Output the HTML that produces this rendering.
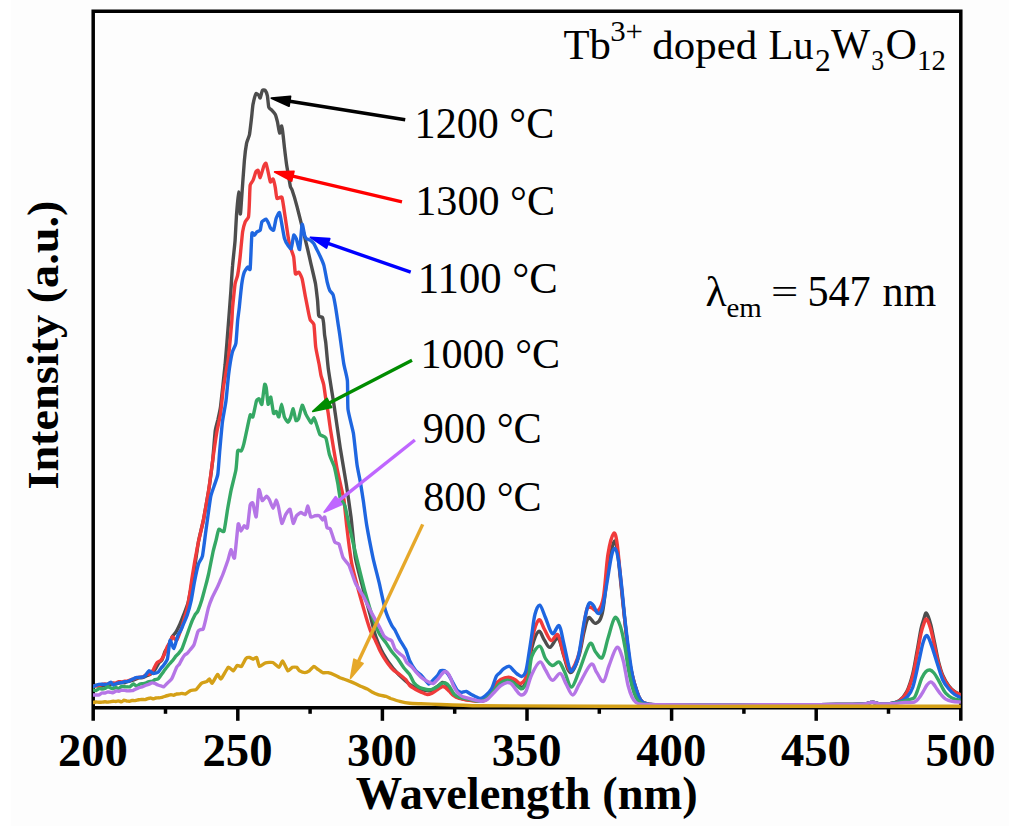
<!DOCTYPE html>
<html><head><meta charset="utf-8"><style>
html,body{margin:0;padding:0;background:#fff;}
svg{display:block;}
text{font-family:'Liberation Serif',serif;fill:#000;}
.lab{font-size:41px;}
.tk{font-size:44px;font-weight:bold;}
.ax{font-size:46px;font-weight:bold;}
</style></head><body>
<svg width="1009" height="836" viewBox="0 0 1009 836">
<defs><clipPath id="pc"><rect x="93" y="11" width="867.8" height="700"/></clipPath></defs>
<rect width="1009" height="836" fill="#fff"/>
<rect x="11" y="0" width="998" height="826" fill="#fdfdfd"/>
<path d="M93.2,720.8 L93.2,11.2 L960.8,11.2 L960.8,720.8 M93.2,707.7 L960.8,707.7" fill="none" stroke="#000" stroke-width="3.5" stroke-linejoin="miter"/>
<line x1="237.80" y1="707.7" x2="237.80" y2="720.8" stroke="#000" stroke-width="3.5"/>
<line x1="382.40" y1="707.7" x2="382.40" y2="720.8" stroke="#000" stroke-width="3.5"/>
<line x1="527.00" y1="707.7" x2="527.00" y2="720.8" stroke="#000" stroke-width="3.5"/>
<line x1="671.60" y1="707.7" x2="671.60" y2="720.8" stroke="#000" stroke-width="3.5"/>
<line x1="816.20" y1="707.7" x2="816.20" y2="720.8" stroke="#000" stroke-width="3.5"/>
<line x1="165.50" y1="707.7" x2="165.50" y2="713.8" stroke="#000" stroke-width="3.5"/>
<line x1="310.10" y1="707.7" x2="310.10" y2="713.8" stroke="#000" stroke-width="3.5"/>
<line x1="454.70" y1="707.7" x2="454.70" y2="713.8" stroke="#000" stroke-width="3.5"/>
<line x1="599.30" y1="707.7" x2="599.30" y2="713.8" stroke="#000" stroke-width="3.5"/>
<line x1="743.90" y1="707.7" x2="743.90" y2="713.8" stroke="#000" stroke-width="3.5"/>
<line x1="888.50" y1="707.7" x2="888.50" y2="713.8" stroke="#000" stroke-width="3.5"/>
<g clip-path="url(#pc)">
<path d="M93.0,687.0 C93.2,686.9 95.5,685.3 96.0,685.2 C96.5,685.1 98.5,685.8 99.0,685.8 C99.5,685.9 101.5,686.1 102.0,686.1 C102.5,686.0 104.5,685.1 105.0,685.0 C105.5,684.9 107.3,684.6 107.8,684.6 C108.2,684.6 110.0,684.7 110.5,684.6 C111.0,684.5 112.8,683.2 113.2,683.2 C113.7,683.1 115.5,684.0 116.0,684.0 C116.5,684.0 118.3,683.3 118.8,683.2 C119.3,683.1 121.1,682.5 121.6,682.5 C122.1,682.5 123.9,682.9 124.4,682.9 C124.9,682.8 126.7,681.9 127.2,681.7 C127.7,681.6 129.5,681.1 130.0,681.0 C130.5,680.9 132.6,680.3 133.2,680.1 C133.7,680.0 135.8,679.0 136.3,678.8 C136.8,678.6 138.9,677.9 139.4,677.8 C140.0,677.7 142.0,677.7 142.6,677.6 C143.2,677.5 145.7,676.3 146.3,676.0 C146.9,675.8 149.4,674.8 150.0,674.5 C150.6,674.2 152.5,672.8 153.0,672.2 C153.5,671.7 155.5,668.8 156.0,668.0 C156.5,667.2 158.5,663.3 159.0,662.6 C159.5,661.9 161.5,660.9 162.0,660.0 C162.5,659.1 164.5,652.5 165.0,651.4 C165.5,650.4 167.4,648.2 168.0,647.0 C168.6,645.8 171.3,638.2 172.0,637.0 C172.7,635.8 175.3,633.1 176.0,632.0 C176.7,630.9 179.3,625.5 180.0,624.0 C180.7,622.5 183.3,615.8 184.0,614.0 C184.7,612.2 187.4,605.2 188.0,603.0 C188.6,600.8 190.4,591.1 191.0,588.0 C191.6,584.9 194.1,570.1 194.8,566.2 C195.4,562.3 197.8,545.4 198.5,541.5 C199.2,537.6 202.8,523.3 203.6,519.1 C204.4,514.9 207.8,495.6 208.6,490.7 C209.4,485.8 212.1,465.2 212.7,460.2 C213.2,455.2 214.8,434.6 215.2,431.2 C215.6,427.8 217.4,421.9 217.9,419.8 C218.3,417.7 220.0,410.7 220.6,406.1 C221.2,401.5 224.4,372.0 225.1,364.8 C225.8,357.6 228.2,326.2 228.7,320.0 C229.2,313.8 230.6,295.1 230.9,290.5 C231.2,285.9 232.2,269.6 232.6,265.4 C232.9,261.2 234.8,244.5 235.1,240.3 C235.4,236.1 236.2,219.0 236.5,215.0 C236.8,211.0 238.2,192.1 238.5,192.0 C238.8,191.9 240.1,213.3 240.3,214.0 C240.6,214.7 241.2,204.5 241.5,200.0 C241.8,195.5 244.0,165.0 244.4,160.3 C244.8,155.6 246.2,145.2 246.6,143.1 C247.0,140.9 249.1,136.7 249.5,134.5 C249.9,132.3 251.3,119.8 251.6,117.3 C251.9,114.8 252.6,106.4 253.0,104.4 C253.4,102.4 255.4,94.6 255.9,93.8 C256.4,93.0 258.4,95.0 258.8,95.3 C259.2,95.6 259.9,98.4 260.2,98.0 C260.5,97.6 262.0,91.0 262.4,90.4 C262.8,89.8 264.8,90.0 265.2,90.4 C265.6,90.9 267.1,94.4 267.4,95.8 C267.7,97.2 268.4,106.1 268.8,107.3 C269.2,108.5 271.2,109.5 271.7,110.1 C272.2,110.7 274.8,113.4 275.3,114.4 C275.8,115.4 277.0,120.0 277.4,121.6 C277.8,123.2 279.2,132.7 279.6,133.1 C280.0,133.5 281.4,125.7 281.7,125.9 C282.0,126.1 283.0,134.1 283.2,136.0 C283.4,137.9 284.3,146.4 284.6,148.9 C284.9,151.4 286.3,163.0 286.8,166.1 C287.3,169.2 289.9,184.2 290.3,186.2 C290.7,188.2 291.5,188.3 292.1,190.0 C292.7,191.7 296.3,203.7 297.1,206.8 C297.9,209.9 301.3,223.6 302.1,226.9 C302.9,230.2 306.3,243.8 307.1,247.0 C307.9,250.2 310.6,262.3 311.3,265.4 C312.0,268.5 315.0,280.9 315.5,283.8 C316.0,286.7 317.2,297.4 317.5,300.0 C317.8,302.6 318.3,314.0 318.7,315.5 C319.1,317.0 322.1,316.9 322.5,317.5 C322.9,318.1 323.4,321.5 323.6,323.0 C323.8,324.5 324.4,333.3 324.6,335.0 C324.8,336.7 325.5,340.2 325.8,343.0 C326.1,345.8 327.6,363.4 328.3,368.7 C329.0,374.0 333.3,400.4 334.3,407.0 C335.3,413.6 339.2,441.3 340.2,447.7 C341.2,454.1 345.3,477.7 346.2,483.5 C347.1,489.3 350.2,510.8 351.0,517.0 C351.8,523.2 354.4,551.9 355.4,557.8 C356.4,563.7 361.6,583.2 362.9,588.0 C364.1,592.8 369.3,611.6 370.4,615.6 C371.4,619.6 374.4,632.6 375.5,635.7 C376.6,638.8 381.5,650.6 383.0,653.3 C384.5,656.0 391.2,666.0 393.1,668.3 C395.0,670.6 403.9,679.4 405.6,680.9 C407.3,682.4 411.7,685.8 413.0,686.5 C414.3,687.2 419.2,689.4 420.7,689.7 C422.2,690.0 429.4,690.8 430.8,690.5 C432.2,690.2 436.5,687.2 437.5,686.5 C438.5,685.8 441.7,682.7 442.4,682.5 C443.1,682.3 445.4,683.5 446.0,684.0 C446.6,684.5 448.8,688.1 449.4,689.0 C450.0,689.9 452.5,693.6 453.3,694.4 C454.1,695.1 458.0,697.5 459.3,698.0 C460.6,698.5 467.5,699.8 469.2,700.0 C470.9,700.2 478.5,701.1 480.0,701.0 C483.0,700.8 484.6,700.8 487.0,698.5 C489.4,696.2 492.3,689.8 494.6,687.0 C496.9,684.2 498.5,682.8 500.8,681.5 C503.1,680.2 506.3,679.5 508.6,679.5 C510.9,679.5 512.5,680.2 514.8,681.5 C517.1,682.8 520.5,688.2 522.6,687.3 C524.7,686.4 525.8,682.5 527.3,676.0 C528.8,669.5 529.9,655.4 531.8,648.0 C533.7,640.6 536.5,632.7 538.6,631.4 C540.7,630.1 542.4,637.4 544.3,640.0 C546.2,642.6 547.7,647.6 550.0,647.3 C552.3,647.0 555.7,636.9 558.0,638.2 C560.3,639.5 561.9,649.7 563.6,655.0 C565.3,660.3 566.7,667.3 568.2,670.0 C569.7,672.7 570.8,673.7 572.7,671.0 C574.6,668.3 577.6,660.5 579.5,654.0 C581.4,647.5 582.5,638.0 584.0,632.0 C585.5,626.0 586.7,619.1 588.6,617.7 C590.5,616.3 593.2,624.1 595.5,623.4 C597.8,622.6 600.2,622.1 602.3,613.2 C604.4,604.3 606.1,581.8 608.0,570.0 C609.9,558.2 612.1,546.4 613.6,542.7 C615.1,539.0 615.9,541.8 617.0,548.0 C618.1,554.2 619.2,567.6 620.5,580.0 C621.8,592.4 623.5,608.8 625.0,622.3 C626.5,635.8 628.2,651.6 629.5,660.9 C630.8,670.2 632.0,673.8 633.0,678.0 C634.0,682.2 634.2,682.8 635.2,686.0 C636.2,689.2 637.7,694.2 639.0,697.0 C640.3,699.8 641.2,701.3 643.0,702.5 C644.8,703.7 647.2,704.0 650.0,704.4 C652.8,704.8 651.7,704.7 660.0,704.8 C668.3,704.9 683.3,704.9 700.0,704.9 C716.7,704.9 740.0,704.8 760.0,704.8 C780.0,704.8 803.0,704.7 820.0,704.6 C837.0,704.5 853.3,704.7 862.0,704.3 C870.7,703.9 869.0,702.3 872.0,702.3 C875.0,702.2 877.0,703.8 880.0,704.0 C883.0,704.2 886.8,704.4 890.0,703.8 C893.2,703.2 896.5,702.6 899.3,700.6 C902.1,698.6 904.5,696.1 906.8,691.6 C909.0,687.1 911.0,680.7 912.8,673.7 C914.5,666.7 915.9,657.3 917.3,649.8 C918.7,642.3 919.9,634.1 921.0,628.9 C922.1,623.7 923.1,621.0 924.0,618.4 C924.9,615.8 925.4,612.2 926.5,613.2 C927.6,614.2 929.4,619.5 930.7,624.4 C932.0,629.2 933.2,636.3 934.5,642.3 C935.8,648.3 936.8,654.8 938.2,660.3 C939.6,665.8 941.0,671.0 942.7,675.2 C944.5,679.4 946.7,683.0 948.7,685.7 C950.7,688.4 952.6,690.1 954.6,691.6 C956.6,693.1 959.6,694.1 960.6,694.6" fill="none" stroke="#4d4d4d" stroke-width="3.4" stroke-linejoin="round" stroke-linecap="round"/>
<path d="M93.0,686.0 C93.2,686.0 95.5,685.9 96.0,685.9 C96.5,685.9 98.5,686.1 99.0,685.9 C99.5,685.8 101.5,684.4 102.0,684.3 C102.5,684.1 104.5,684.0 105.0,684.0 C105.5,684.0 107.3,684.3 107.8,684.2 C108.2,684.0 110.0,682.8 110.5,682.7 C111.0,682.6 112.8,683.3 113.2,683.3 C113.7,683.3 115.5,683.1 116.0,683.0 C116.5,682.9 118.3,681.7 118.8,681.6 C119.3,681.5 121.1,681.9 121.6,681.9 C122.1,681.9 123.9,681.2 124.4,681.2 C124.9,681.1 126.7,681.2 127.2,681.1 C127.7,681.0 129.5,680.2 130.0,680.0 C130.5,679.8 132.6,679.2 133.2,679.0 C133.7,678.9 135.8,678.1 136.3,677.9 C136.8,677.8 138.9,677.3 139.4,677.2 C140.0,677.1 142.0,677.2 142.6,677.0 C143.2,676.8 145.7,674.7 146.3,674.4 C146.9,674.2 149.4,674.4 150.0,674.0 C150.6,673.6 152.8,670.5 153.4,669.6 C154.0,668.6 156.2,663.7 156.8,662.9 C157.4,662.1 160.1,661.1 160.8,660.3 C161.5,659.5 164.2,654.8 164.7,653.7 C165.2,652.6 166.9,647.7 167.3,646.7 C167.8,645.8 169.5,643.2 170.0,642.3 C170.4,641.5 172.0,636.8 172.6,636.6 C173.2,636.4 176.0,640.7 176.6,640.5 C177.2,640.3 178.8,635.6 179.2,634.5 C179.6,633.4 181.4,628.8 181.8,627.4 C182.2,626.0 184.0,619.6 184.4,618.1 C184.9,616.5 186.6,611.2 187.1,608.9 C187.6,606.6 189.9,592.6 190.3,590.0 C190.7,587.4 191.6,580.6 192.0,578.0 C192.4,575.4 194.7,561.9 195.2,558.8 C195.8,555.8 197.8,544.8 198.5,541.5 C199.2,538.2 202.8,523.3 203.6,519.1 C204.4,514.9 207.8,495.6 208.6,490.7 C209.4,485.8 212.0,465.2 212.7,460.2 C213.4,455.2 216.3,435.1 217.0,431.2 C217.7,427.3 220.1,416.8 220.6,413.2 C221.1,409.6 222.9,391.5 223.3,388.1 C223.8,384.7 225.6,375.0 226.0,372.3 C226.4,369.6 228.2,360.3 228.7,355.9 C229.2,351.5 231.6,324.1 231.9,320.0 C232.2,315.9 232.3,310.3 232.6,307.3 C232.9,304.3 234.7,286.5 235.1,283.8 C235.5,281.1 237.2,277.6 237.6,275.4 C238.0,273.2 239.7,260.6 240.1,257.0 C240.5,253.4 242.2,234.8 242.6,231.9 C243.0,229.0 244.7,223.1 245.2,221.8 C245.7,220.5 248.1,218.6 248.5,216.8 C248.9,215.0 249.4,202.7 249.5,200.0 C249.6,197.3 249.9,186.6 250.2,185.0 C250.5,183.4 252.5,181.5 253.0,180.4 C253.5,179.3 255.5,172.6 255.9,171.8 C256.3,171.0 257.7,169.9 258.1,170.4 C258.5,170.9 259.7,178.0 260.2,177.6 C260.7,177.2 263.3,167.3 263.8,166.1 C264.3,164.9 265.6,162.7 266.0,163.2 C266.4,163.7 267.7,170.2 268.1,171.8 C268.5,173.4 269.9,181.3 270.3,181.9 C270.7,182.5 272.7,178.5 273.1,179.0 C273.5,179.5 275.0,186.0 275.3,187.6 C275.6,189.2 276.4,197.6 277.0,198.4 C277.6,199.2 281.3,195.8 282.0,197.5 C282.7,199.2 284.8,214.9 285.4,218.5 C286.0,222.1 288.2,237.7 288.7,240.3 C289.2,242.9 290.8,248.1 291.2,249.5 C291.6,250.9 293.3,255.0 293.7,257.0 C294.1,259.0 295.0,272.5 295.4,273.8 C295.8,275.1 298.2,271.7 298.8,272.1 C299.4,272.5 301.5,276.7 302.1,278.8 C302.7,280.9 304.9,294.3 305.5,297.2 C306.1,300.1 308.4,312.1 308.8,314.0 C309.2,315.9 309.9,319.1 310.3,320.0 C310.7,320.9 313.4,322.3 313.9,324.5 C314.3,326.7 315.3,343.5 315.7,346.9 C316.1,350.3 318.8,362.4 319.2,364.8 C319.6,367.2 320.7,374.2 321.1,375.9 C321.5,377.5 323.3,382.6 323.7,384.6 C324.1,386.6 325.5,397.4 325.9,399.8 C326.3,402.2 327.8,410.6 328.2,413.2 C328.6,415.8 330.0,426.4 330.7,430.9 C331.4,435.4 335.8,462.0 336.7,466.8 C337.6,471.6 340.8,485.5 341.4,488.3 C342.0,491.1 343.6,496.9 344.0,500.0 C344.4,503.1 346.0,519.9 346.6,525.1 C347.2,530.3 350.7,557.6 351.6,562.8 C352.5,568.0 356.8,584.0 357.9,588.0 C358.9,592.0 363.2,607.0 364.2,610.6 C365.2,614.2 369.5,628.2 370.4,630.7 C371.3,633.2 374.7,639.0 375.5,640.7 C376.3,642.4 379.3,649.4 380.0,650.8 C380.7,652.2 383.3,656.7 384.0,657.8 C384.7,658.9 387.2,662.6 388.0,663.7 C388.8,664.8 392.9,669.7 393.9,670.6 C394.9,671.5 398.8,673.9 399.8,674.6 C400.8,675.4 405.0,678.7 405.8,679.6 C406.6,680.5 408.9,684.7 409.7,685.5 C410.5,686.3 414.7,688.9 415.7,689.5 C416.7,690.1 420.7,692.0 421.6,692.4 C422.5,692.8 425.8,694.3 426.6,694.4 C427.4,694.5 430.6,693.8 431.5,693.4 C432.4,693.0 436.6,690.1 437.5,689.5 C438.4,688.9 441.7,686.7 442.4,686.5 C443.1,686.3 444.8,687.1 445.4,687.5 C446.0,687.9 448.7,690.7 449.4,691.4 C450.1,692.1 452.5,694.8 453.3,695.4 C454.1,696.0 458.0,698.0 459.3,698.4 C460.6,698.8 467.5,700.1 469.2,700.4 C470.9,700.6 478.5,701.5 480.0,701.4 C483.0,701.2 484.6,701.6 487.0,699.0 C489.4,696.4 492.3,689.0 494.6,685.7 C496.9,682.5 498.5,680.9 500.8,679.5 C503.1,678.1 506.3,677.2 508.6,677.2 C510.9,677.2 512.7,678.5 514.8,679.5 C516.9,680.5 518.9,684.4 521.0,683.4 C523.1,682.4 525.5,680.4 527.3,673.3 C529.1,666.1 529.9,649.4 531.8,640.5 C533.7,631.6 536.5,621.9 538.6,620.0 C540.7,618.1 542.2,625.7 544.3,629.1 C546.4,632.5 548.8,639.5 551.1,640.5 C553.4,641.5 555.9,632.5 558.0,634.8 C560.1,637.1 561.5,648.2 563.6,654.1 C565.7,660.0 567.9,670.4 570.5,670.0 C573.1,669.6 576.9,661.6 579.5,651.8 C582.1,641.9 584.5,618.3 586.4,610.9 C588.3,603.5 589.0,607.5 590.9,607.5 C592.8,607.5 595.6,612.6 597.7,610.9 C599.8,609.2 601.7,606.8 603.4,597.3 C605.1,587.8 606.3,564.7 608.0,554.1 C609.7,543.5 612.1,535.5 613.6,533.6 C615.1,531.7 615.9,535.5 617.0,542.7 C618.1,549.9 619.2,563.5 620.5,576.8 C621.8,590.1 623.5,608.3 625.0,622.3 C626.5,636.3 628.2,651.6 629.5,660.9 C630.8,670.2 632.0,673.8 633.0,678.0 C634.0,682.2 634.2,682.8 635.2,686.0 C636.2,689.2 637.7,694.2 639.0,697.0 C640.3,699.8 641.2,701.3 643.0,702.5 C644.8,703.7 647.2,704.0 650.0,704.4 C652.8,704.8 651.7,704.7 660.0,704.8 C668.3,704.9 683.3,704.9 700.0,704.9 C716.7,704.9 740.0,704.8 760.0,704.8 C780.0,704.8 803.0,704.7 820.0,704.6 C837.0,704.5 853.3,704.7 862.0,704.3 C870.7,703.9 869.0,702.3 872.0,702.3 C875.0,702.2 877.0,703.8 880.0,704.0 C883.0,704.2 886.8,704.3 890.0,703.8 C893.2,703.3 896.5,702.7 899.3,700.8 C902.1,698.9 904.5,696.6 906.8,692.5 C909.0,688.4 911.0,682.5 912.8,676.0 C914.5,669.5 915.9,660.6 917.3,653.5 C918.7,646.4 919.9,638.5 921.0,633.5 C922.1,628.5 923.1,625.9 924.0,623.5 C924.9,621.1 925.4,618.2 926.5,619.1 C927.6,620.0 929.4,624.5 930.7,629.0 C932.0,633.5 933.2,640.4 934.5,646.0 C935.8,651.6 936.8,657.4 938.2,662.5 C939.6,667.6 941.0,672.5 942.7,676.5 C944.5,680.5 946.7,683.9 948.7,686.5 C950.7,689.1 952.6,690.6 954.6,692.0 C956.6,693.4 959.6,694.2 960.6,694.6" fill="none" stroke="#f03a3a" stroke-width="3.4" stroke-linejoin="round" stroke-linecap="round"/>
<path d="M93.0,686.5 C93.2,686.4 95.5,685.6 96.0,685.5 C96.5,685.3 98.5,684.5 99.0,684.4 C99.5,684.3 101.5,684.2 102.0,684.2 C102.5,684.2 104.5,684.5 105.0,684.5 C105.5,684.5 107.4,684.3 107.8,684.1 C108.3,683.9 110.2,682.0 110.7,682.1 C111.1,682.2 113.0,685.1 113.5,685.2 C113.9,685.3 115.8,683.7 116.3,683.5 C116.8,683.3 118.6,682.9 119.0,682.8 C119.5,682.7 121.3,682.8 121.8,682.7 C122.2,682.6 124.1,681.7 124.5,681.7 C125.0,681.6 126.8,681.7 127.3,681.6 C127.7,681.5 129.5,680.7 130.0,680.5 C130.5,680.3 133.0,679.0 133.6,678.7 C134.1,678.4 136.6,677.5 137.1,677.4 C137.6,677.3 139.3,677.5 139.7,677.4 C140.2,677.4 141.9,677.1 142.4,677.0 C142.8,676.8 144.5,676.5 145.0,676.0 C145.5,675.5 148.2,671.0 148.9,670.8 C149.6,670.6 152.3,673.2 152.9,673.4 C153.5,673.6 155.1,673.2 155.6,673.1 C156.0,673.0 157.8,672.5 158.2,672.1 C158.6,671.7 160.4,669.0 160.8,668.5 C161.2,667.9 162.8,666.3 163.4,665.5 C164.0,664.7 166.8,661.1 167.4,659.0 C168.0,656.9 169.5,641.4 170.0,640.5 C170.5,639.6 173.2,648.8 173.9,648.4 C174.6,648.0 177.3,636.8 177.9,635.3 C178.5,633.8 180.1,631.7 180.6,630.8 C181.0,630.0 182.7,626.0 183.2,624.7 C183.7,623.4 186.4,617.5 187.1,615.5 C187.8,613.5 190.5,603.8 191.1,601.0 C191.7,598.2 193.8,585.3 194.4,582.2 C195.0,579.1 197.8,566.1 198.5,563.9 C199.2,561.7 201.9,558.6 202.5,555.8 C203.1,553.0 205.3,534.9 206.0,530.0 C206.7,525.1 210.0,500.5 210.7,496.8 C211.4,493.1 213.7,487.5 214.2,485.7 C214.8,483.8 217.3,477.4 217.8,474.4 C218.3,471.4 219.4,454.4 219.8,450.0 C220.2,445.6 221.9,426.3 222.4,422.2 C222.9,418.1 225.5,404.7 226.0,400.7 C226.5,396.7 228.2,377.8 228.7,373.8 C229.2,369.8 231.7,354.8 232.3,352.3 C232.9,349.8 235.5,346.0 235.9,343.3 C236.3,340.6 237.4,323.0 237.7,320.0 C238.0,317.0 239.0,310.3 239.3,307.3 C239.6,304.3 241.4,286.7 241.8,283.8 C242.2,280.9 243.8,273.5 244.3,272.1 C244.8,270.7 247.2,267.4 247.7,267.1 C248.2,266.8 249.8,271.5 250.2,268.7 C250.5,265.9 251.6,236.4 251.9,233.6 C252.2,230.8 254.0,235.3 254.4,235.2 C254.8,235.1 256.4,232.3 256.9,231.9 C257.4,231.5 259.8,231.0 260.2,230.2 C260.6,229.4 261.4,222.7 261.9,221.8 C262.4,220.9 265.5,219.2 266.1,219.3 C266.7,219.4 268.2,222.8 268.6,223.5 C269.0,224.2 269.9,227.1 270.3,227.7 C270.7,228.3 273.1,231.0 273.6,230.2 C274.1,229.4 275.6,220.0 276.1,218.5 C276.6,217.0 279.0,212.0 279.5,212.6 C280.0,213.2 281.6,223.0 282.0,225.2 C282.4,227.4 284.0,236.9 284.5,238.6 C285.0,240.3 287.3,244.5 287.9,245.3 C288.5,246.1 290.7,249.4 291.2,248.6 C291.7,247.8 293.3,236.0 293.7,235.2 C294.1,234.4 295.8,237.4 296.3,238.6 C296.8,239.8 299.1,250.7 299.6,249.5 C300.1,248.3 301.7,225.5 302.1,224.3 C302.5,223.1 304.2,234.0 304.6,235.2 C305.0,236.4 305.8,238.2 306.3,238.6 C306.8,239.0 309.9,239.9 310.5,240.3 C311.1,240.7 313.2,242.8 313.8,243.6 C314.4,244.4 316.6,249.2 317.2,250.3 C317.8,251.4 319.9,255.7 320.5,257.0 C321.1,258.3 323.3,263.3 323.9,265.4 C324.5,267.5 326.7,280.0 327.2,282.1 C327.7,284.2 329.3,289.4 329.8,290.5 C330.3,291.6 332.6,293.3 333.1,294.7 C333.6,296.1 335.2,304.9 335.6,307.3 C336.0,309.7 337.8,321.9 338.1,324.0 C338.4,326.1 339.0,329.7 339.5,333.0 C340.0,336.3 343.1,359.9 343.8,363.9 C344.5,367.9 347.0,376.9 347.4,380.7 C347.8,384.5 347.5,405.0 348.0,409.4 C348.5,413.8 352.6,428.7 353.4,433.3 C354.1,437.9 356.4,460.2 357.0,464.4 C357.6,468.6 360.1,480.4 360.6,483.5 C361.1,486.6 363.0,498.5 363.5,502.0 C364.0,505.5 365.9,520.5 366.7,525.1 C367.5,529.8 372.0,553.0 373.0,557.8 C374.0,562.6 378.2,578.5 379.2,582.9 C380.2,587.3 384.4,607.0 385.5,610.6 C386.6,614.2 391.0,624.0 391.8,625.6 C392.6,627.2 394.2,628.8 394.9,630.0 C395.6,631.2 398.9,638.2 399.8,639.9 C400.7,641.5 405.0,648.1 405.8,649.8 C406.6,651.5 408.9,659.0 409.7,660.7 C410.5,662.4 414.7,669.4 415.7,670.6 C416.7,671.8 420.5,674.5 421.6,675.6 C422.7,676.7 427.6,683.7 428.6,684.0 C429.6,684.3 432.8,680.3 433.5,679.6 C434.2,678.9 436.9,676.4 437.5,675.6 C438.1,674.9 439.9,671.0 440.5,670.6 C441.1,670.2 443.7,670.3 444.4,670.6 C445.1,670.9 447.7,673.7 448.4,674.6 C449.1,675.5 451.6,680.2 452.3,681.5 C453.0,682.8 456.6,689.6 457.3,690.5 C458.1,691.4 460.6,692.3 461.3,692.4 C462.0,692.5 465.4,691.2 466.2,691.4 C467.0,691.6 470.1,693.8 471.2,694.4 C473.5,695.6 477.6,698.2 480.0,698.4 C482.4,698.6 483.4,697.4 485.3,695.8 C487.2,694.2 489.7,692.0 491.5,688.8 C493.3,685.6 494.9,679.0 496.2,676.4 C497.5,673.8 498.0,674.6 499.3,673.3 C500.6,672.0 502.2,669.8 503.9,668.6 C505.6,667.4 507.8,666.0 509.4,666.3 C511.0,666.6 512.0,668.9 513.3,670.2 C514.6,671.5 515.8,673.0 517.2,674.0 C518.6,675.0 520.4,676.8 521.8,676.4 C523.2,676.0 524.5,675.3 525.7,671.7 C526.9,668.1 527.8,660.9 528.8,654.6 C529.8,648.3 530.9,640.7 531.9,634.0 C532.9,627.3 533.7,619.0 535.0,614.2 C536.3,609.4 538.0,604.6 539.8,605.2 C541.5,605.8 543.4,613.0 545.5,617.7 C547.6,622.4 550.0,632.3 552.3,633.6 C554.6,634.9 557.2,624.2 559.1,625.7 C561.0,627.2 561.9,635.7 563.6,642.7 C565.3,649.7 567.8,663.2 569.3,667.7 C570.8,672.2 571.2,671.9 572.7,670.0 C574.2,668.1 576.5,664.4 578.4,656.4 C580.3,648.4 582.4,631.0 584.1,622.3 C585.8,613.6 587.1,607.0 588.6,604.1 C590.1,601.2 591.7,603.7 593.2,605.2 C594.7,606.7 596.2,612.6 597.7,613.2 C599.2,613.8 600.8,613.5 602.3,608.6 C603.8,603.7 605.3,592.3 606.8,583.6 C608.3,574.9 610.1,562.3 611.4,556.4 C612.7,550.5 613.7,548.0 614.8,548.4 C615.9,548.8 617.1,552.4 618.2,558.6 C619.3,564.9 620.5,575.7 621.6,585.9 C622.7,596.1 623.7,608.2 625.0,620.0 C626.3,631.8 628.2,646.7 629.5,656.4 C630.8,666.1 632.0,673.1 633.0,678.0 C634.0,682.9 634.2,682.8 635.2,686.0 C636.2,689.2 637.7,694.2 639.0,697.0 C640.3,699.8 641.2,701.3 643.0,702.5 C644.8,703.7 647.2,704.0 650.0,704.4 C652.8,704.8 651.7,704.7 660.0,704.8 C668.3,704.9 683.3,704.9 700.0,704.9 C716.7,704.9 740.0,704.8 760.0,704.8 C780.0,704.8 803.0,704.7 820.0,704.6 C837.0,704.5 853.3,704.7 862.0,704.3 C870.7,703.9 869.0,702.3 872.0,702.3 C875.0,702.2 877.0,703.8 880.0,704.0 C883.0,704.2 886.3,704.4 890.0,703.8 C893.7,703.2 899.5,701.7 902.3,700.6 C905.1,699.5 905.2,699.2 907.0,697.0 C908.8,694.8 910.8,693.1 912.8,687.2 C914.8,681.3 917.1,669.2 918.8,661.7 C920.5,654.2 921.8,646.6 923.2,642.3 C924.6,637.9 925.6,635.1 927.0,635.6 C928.4,636.1 929.9,640.9 931.5,645.3 C933.1,649.6 934.8,656.0 936.7,661.7 C938.6,667.4 940.7,675.2 942.7,679.7 C944.7,684.2 946.7,686.2 948.7,688.7 C950.7,691.2 952.6,693.0 954.6,694.5 C956.6,696.0 959.6,697.1 960.6,697.6" fill="none" stroke="#1e66e0" stroke-width="3.4" stroke-linejoin="round" stroke-linecap="round"/>
<path d="M93.0,690.0 C93.2,690.0 95.5,690.6 96.0,690.5 C96.5,690.4 98.5,688.8 99.0,688.7 C99.5,688.5 101.5,689.0 102.0,689.0 C102.5,689.0 104.5,688.7 105.0,688.5 C105.5,688.3 107.3,686.8 107.8,686.7 C108.2,686.7 110.0,687.8 110.5,687.9 C111.0,688.1 112.8,688.8 113.2,688.7 C113.7,688.7 115.5,687.5 116.0,687.5 C116.5,687.5 118.3,688.6 118.8,688.5 C119.3,688.4 121.1,686.6 121.6,686.4 C122.1,686.3 123.9,686.7 124.4,686.7 C124.9,686.7 126.7,686.7 127.2,686.8 C127.7,686.8 129.5,687.0 130.0,686.8 C130.5,686.6 132.8,684.0 133.3,684.0 C133.9,683.9 136.1,686.1 136.7,686.1 C137.2,686.1 139.5,684.2 140.0,684.0 C140.5,683.8 142.5,683.8 143.0,683.7 C143.5,683.6 145.5,682.9 146.0,682.8 C146.5,682.6 148.5,681.7 149.0,681.6 C149.5,681.5 151.5,681.6 152.0,681.5 C152.5,681.3 154.5,679.8 155.0,679.6 C155.5,679.4 157.5,679.4 158.0,679.0 C158.5,678.6 160.5,675.8 161.0,675.2 C161.5,674.5 163.3,671.9 164.0,671.0 C164.7,670.1 168.3,665.3 169.0,664.5 C169.7,663.7 171.7,661.8 172.2,661.1 C172.8,660.5 175.0,657.3 175.5,656.6 C176.0,655.9 178.2,653.8 178.8,653.2 C179.3,652.5 181.3,650.2 182.0,648.7 C182.7,647.2 186.3,636.8 187.0,635.0 C187.7,633.2 189.3,628.3 189.8,627.0 C190.3,625.7 192.1,620.7 192.6,619.7 C193.1,618.7 194.8,615.2 195.2,614.5 C195.7,613.7 197.4,612.2 197.9,611.0 C198.4,609.8 201.2,602.0 201.8,600.0 C202.4,598.0 204.6,589.6 205.2,587.4 C205.8,585.3 207.9,577.0 208.6,574.0 C209.2,571.0 212.4,554.8 213.0,552.0 C213.6,549.2 215.4,542.8 215.9,540.9 C216.4,539.0 218.1,530.1 218.8,529.3 C219.5,528.5 223.2,532.9 223.9,531.3 C224.6,529.7 226.9,513.6 227.4,510.2 C228.0,506.9 230.3,494.1 231.0,490.7 C231.7,487.3 235.3,473.3 235.9,470.0 C236.5,466.7 237.3,452.5 237.7,450.9 C238.1,449.3 240.7,451.5 241.2,450.9 C241.7,450.3 243.5,445.3 243.9,443.7 C244.3,442.1 246.1,433.6 246.6,431.2 C247.1,428.8 249.7,416.2 250.2,415.0 C250.7,413.8 252.4,418.0 252.9,416.8 C253.4,415.6 256.0,402.2 256.5,400.7 C257.0,399.2 258.8,398.6 259.2,398.9 C259.6,399.2 261.4,405.5 261.9,404.3 C262.3,403.1 264.2,386.0 264.6,384.6 C265.0,383.2 266.0,386.5 266.3,388.1 C266.6,389.7 267.7,403.6 268.1,404.3 C268.5,405.1 270.4,396.4 270.8,397.1 C271.2,397.8 273.1,412.0 273.5,413.2 C273.9,414.4 275.8,411.1 276.2,411.4 C276.6,411.7 278.4,417.4 278.9,416.8 C279.3,416.2 281.2,404.3 281.6,404.3 C282.1,404.3 283.8,415.3 284.3,416.8 C284.8,418.3 287.4,422.1 287.9,422.2 C288.4,422.3 290.1,418.8 290.5,417.7 C290.9,416.6 292.8,408.6 293.2,408.8 C293.6,409.0 295.4,419.6 295.9,420.4 C296.3,421.2 298.1,419.9 298.6,418.6 C299.1,417.3 301.6,405.6 302.2,405.2 C302.8,404.8 305.2,412.8 305.8,414.1 C306.4,415.4 308.9,419.6 309.4,420.4 C309.8,421.1 310.8,423.3 311.2,423.1 C311.6,422.9 313.5,417.6 313.9,417.7 C314.3,417.8 315.8,422.3 316.3,423.7 C316.8,425.1 319.1,433.3 319.9,434.5 C320.7,435.7 325.1,436.4 325.9,438.1 C326.7,439.8 328.8,452.4 329.5,454.8 C330.2,457.2 333.6,464.4 334.3,466.8 C335.0,469.2 337.3,480.9 337.8,483.5 C338.3,486.1 339.6,496.0 340.2,497.9 C340.8,499.8 344.3,503.7 345.0,506.0 C345.7,508.3 348.1,520.8 349.1,525.1 C350.1,529.4 355.2,552.1 356.6,557.8 C358.0,563.5 364.0,588.0 365.4,593.0 C366.8,598.0 371.8,614.7 373.0,618.1 C374.2,621.5 378.4,631.9 379.5,634.0 C380.6,636.1 385.0,641.4 386.0,642.9 C387.0,644.4 390.9,650.5 391.9,651.8 C392.9,653.1 396.8,657.4 397.8,658.7 C398.8,660.0 402.8,666.4 403.8,667.7 C404.8,669.0 408.9,673.4 409.7,674.6 C410.5,675.8 412.9,681.4 413.7,682.5 C414.5,683.6 418.5,686.9 419.6,687.5 C420.7,688.1 425.6,689.3 426.6,689.5 C427.6,689.7 430.6,689.8 431.5,689.5 C432.4,689.2 436.7,687.0 437.5,686.5 C438.3,686.0 440.7,683.8 441.4,683.5 C442.1,683.2 444.7,682.8 445.4,683.0 C446.1,683.2 448.7,685.5 449.4,686.5 C450.1,687.5 453.5,693.5 454.3,694.4 C455.1,695.3 458.1,697.0 459.3,697.4 C460.5,697.8 467.5,699.1 469.2,699.4 C470.9,699.7 478.5,701.5 480.0,701.4 C483.0,701.2 484.8,700.1 487.0,698.5 C489.2,696.9 491.1,694.3 493.1,691.9 C495.2,689.5 497.0,686.0 499.3,684.1 C501.6,682.2 504.7,680.5 507.0,680.3 C509.3,680.0 511.0,681.2 513.3,682.6 C515.6,684.0 519.0,688.2 521.0,688.8 C523.0,689.3 523.7,688.0 525.0,685.9 C526.3,683.8 527.7,681.3 528.8,676.4 C529.9,671.5 530.0,661.4 531.8,656.4 C533.6,651.4 537.5,645.7 539.8,646.1 C542.1,646.5 543.4,655.4 545.5,658.6 C547.6,661.8 550.0,664.9 552.3,665.5 C554.6,666.1 557.0,660.9 559.1,662.0 C561.2,663.1 562.7,668.1 564.8,672.3 C566.9,676.5 569.1,687.4 571.6,687.0 C574.1,686.6 576.5,677.2 579.5,670.0 C582.5,662.8 587.1,646.9 589.8,643.9 C592.5,640.9 593.4,649.5 595.5,651.8 C597.6,654.1 600.2,659.8 602.3,657.5 C604.4,655.2 605.9,644.8 608.0,638.2 C610.1,631.6 612.7,619.6 614.8,617.7 C616.9,615.8 618.8,621.9 620.5,626.8 C622.2,631.7 623.7,640.1 625.0,647.3 C626.3,654.5 627.3,663.5 628.5,670.0 C629.7,676.5 630.8,681.5 632.0,686.0 C633.2,690.5 634.5,694.2 635.8,697.0 C637.1,699.8 638.5,701.3 640.0,702.5 C641.5,703.7 643.3,704.1 645.0,704.4 C646.7,704.7 647.5,704.3 650.0,704.4 C652.5,704.5 651.7,704.7 660.0,704.8 C668.3,704.9 683.3,704.9 700.0,704.9 C716.7,704.9 740.0,704.8 760.0,704.8 C780.0,704.8 803.0,704.7 820.0,704.6 C837.0,704.5 853.3,704.7 862.0,704.3 C870.7,703.9 869.0,702.3 872.0,702.3 C875.0,702.2 877.0,703.8 880.0,704.0 C883.0,704.2 886.2,704.2 890.0,703.8 C893.8,703.4 899.8,702.2 903.0,701.5 C906.2,700.8 907.1,700.1 909.0,699.5 C910.9,698.9 912.8,699.4 914.3,697.6 C915.8,695.9 916.8,692.2 918.0,689.0 C919.2,685.8 920.4,681.1 921.7,678.2 C923.0,675.3 924.6,672.9 926.0,671.5 C927.4,670.1 928.7,669.8 930.0,670.0 C931.3,670.2 932.6,671.4 934.0,673.0 C935.4,674.6 936.9,677.4 938.2,679.7 C939.5,682.0 940.8,684.8 942.0,687.0 C943.2,689.2 944.0,691.3 945.7,693.1 C947.4,694.9 949.5,696.8 952.0,698.0 C954.5,699.2 959.2,700.2 960.6,700.6" fill="none" stroke="#35a864" stroke-width="3.4" stroke-linejoin="round" stroke-linecap="round"/>
<path d="M93.0,695.0 C93.2,695.0 95.5,695.1 96.0,695.0 C96.5,695.0 98.5,695.1 99.0,694.9 C99.5,694.7 101.5,693.1 102.0,693.0 C102.5,692.8 104.5,693.1 105.0,693.0 C105.5,692.9 107.3,692.0 107.8,691.9 C108.2,691.8 110.0,692.2 110.5,692.3 C111.0,692.3 112.8,692.8 113.2,692.7 C113.7,692.6 115.5,691.1 116.0,691.0 C116.5,690.9 118.3,691.3 118.8,691.3 C119.3,691.2 121.1,690.2 121.6,690.1 C122.1,690.1 123.9,690.3 124.4,690.4 C124.9,690.4 126.7,690.8 127.2,690.8 C127.7,690.9 129.5,690.8 130.0,690.8 C130.5,690.8 132.5,690.7 133.0,690.5 C133.5,690.4 135.5,689.1 136.0,688.9 C136.5,688.7 138.5,687.9 139.0,687.7 C139.5,687.6 141.5,687.2 142.0,687.0 C142.5,686.8 144.8,685.7 145.3,685.5 C145.9,685.3 148.1,684.6 148.7,684.4 C149.2,684.2 151.5,683.0 152.0,682.9 C152.5,682.8 154.5,683.3 155.0,683.5 C155.5,683.6 157.5,684.8 158.0,685.0 C158.5,685.2 160.4,685.8 160.8,685.9 C161.3,686.1 163.1,687.0 163.7,686.8 C164.3,686.6 166.8,683.6 167.5,683.0 C168.2,682.4 171.0,679.8 171.6,679.0 C172.2,678.2 173.8,674.2 174.2,673.2 C174.6,672.2 176.4,667.8 176.8,667.0 C177.2,666.2 179.0,664.8 179.4,664.1 C179.9,663.5 181.6,659.7 182.1,659.0 C182.5,658.2 184.3,655.5 184.7,655.0 C185.1,654.5 186.9,653.6 187.3,653.2 C187.8,652.8 189.4,650.7 190.0,650.0 C190.6,649.3 193.3,646.2 194.0,644.7 C194.7,643.2 197.4,632.9 197.9,631.6 C198.4,630.3 200.1,629.8 200.6,629.6 C201.0,629.4 202.8,629.9 203.2,629.0 C203.6,628.1 205.4,620.8 205.8,619.1 C206.2,617.3 207.9,609.7 208.4,607.9 C208.9,606.1 211.3,599.6 212.0,598.0 C212.7,596.4 216.1,589.7 216.8,588.3 C217.5,586.9 219.4,582.5 219.9,581.3 C220.4,580.1 222.3,575.8 223.0,574.0 C223.7,572.2 227.3,562.0 228.0,560.0 C228.7,558.0 230.5,549.9 231.0,549.7 C231.5,549.5 233.9,560.1 234.5,558.0 C235.1,555.9 237.7,526.2 238.2,524.0 C238.7,521.8 240.4,530.9 240.9,531.0 C241.4,531.1 243.7,525.9 244.2,525.6 C244.7,525.3 246.9,529.5 247.4,527.8 C247.9,526.1 249.7,506.9 250.2,504.9 C250.7,502.8 252.4,502.2 252.9,503.2 C253.4,504.2 255.7,518.0 256.2,516.9 C256.7,515.8 258.4,491.0 258.9,489.6 C259.4,488.2 261.6,499.9 262.2,500.5 C262.8,501.1 265.9,496.3 266.5,496.2 C267.1,496.1 268.6,498.4 269.2,499.4 C269.8,500.4 272.5,508.1 273.1,508.2 C273.7,508.2 275.9,500.1 276.3,500.0 C276.8,499.9 278.0,505.2 278.5,507.1 C279.0,509.1 281.2,522.8 281.8,523.4 C282.4,524.0 284.9,515.9 285.6,514.7 C286.3,513.5 289.4,508.5 290.0,509.2 C290.6,509.9 292.7,522.9 293.2,523.4 C293.7,523.9 295.9,516.7 296.5,515.8 C297.1,514.9 300.2,512.6 300.9,512.5 C301.6,512.4 304.6,515.2 305.2,514.7 C305.8,514.2 307.4,505.8 307.9,506.0 C308.4,506.2 310.1,516.1 310.7,516.9 C311.3,517.7 314.3,515.9 315.0,515.8 C315.7,515.7 318.8,515.4 319.4,515.8 C320.0,516.2 322.2,520.0 322.7,520.1 C323.1,520.2 324.4,516.3 324.8,516.9 C325.2,517.5 326.5,526.8 327.0,527.8 C327.5,528.8 329.7,527.7 330.3,528.9 C330.9,530.1 334.0,540.7 334.7,542.0 C335.4,543.3 338.3,542.8 339.0,544.1 C339.7,545.4 342.2,555.7 343.0,557.5 C343.8,559.3 348.1,563.4 349.1,565.5 C350.1,567.6 354.2,580.5 355.4,583.0 C356.5,585.5 361.5,593.0 362.9,595.5 C364.3,598.0 370.3,610.4 371.7,613.1 C373.1,615.8 379.0,626.1 380.0,628.0 C381.0,629.9 383.3,635.1 384.0,636.0 C384.7,636.9 387.2,638.5 387.9,638.9 C388.6,639.3 391.3,640.1 391.9,640.9 C392.5,641.7 394.2,647.7 394.9,648.8 C395.6,649.9 399.1,653.1 399.8,653.8 C400.5,654.5 403.2,656.1 403.8,656.8 C404.4,657.5 406.1,661.9 406.8,662.7 C407.5,663.5 411.0,666.0 411.7,666.7 C412.4,667.4 414.9,670.7 415.7,671.6 C416.5,672.5 420.6,676.8 421.6,677.6 C422.6,678.4 426.6,681.0 427.6,681.5 C428.6,682.0 432.7,683.7 433.5,683.5 C434.3,683.3 436.8,680.3 437.5,679.6 C438.2,678.9 440.8,675.3 441.4,674.6 C442.0,673.9 443.9,671.8 444.4,671.6 C444.9,671.4 446.9,672.1 447.4,672.6 C447.9,673.1 449.9,676.5 450.4,677.6 C450.9,678.7 452.7,684.3 453.3,685.5 C453.9,686.7 456.6,691.5 457.3,692.4 C458.1,693.3 461.3,695.9 462.3,696.4 C463.3,696.9 467.7,698.0 469.2,698.4 C470.7,698.8 479.1,701.1 480.6,701.2 C483.5,701.4 484.7,701.0 486.8,699.7 C488.9,698.4 490.8,695.8 493.1,693.5 C495.4,691.2 498.5,687.5 500.8,685.7 C503.1,683.9 505.2,682.9 507.0,682.6 C508.8,682.3 510.1,682.8 511.7,684.1 C513.3,685.4 514.9,688.6 516.4,690.4 C517.9,692.2 519.5,694.8 521.0,695.0 C522.5,695.2 523.9,695.3 525.7,691.9 C527.5,688.5 529.4,679.5 531.8,674.5 C534.1,669.5 537.5,662.8 539.8,662.0 C542.1,661.2 543.4,667.0 545.5,670.0 C547.6,673.0 549.8,679.6 552.3,680.2 C554.8,680.8 557.9,672.8 560.2,673.4 C562.5,674.0 563.8,680.0 565.9,683.6 C568.0,687.2 570.4,695.0 572.7,695.0 C575.0,695.0 576.5,688.7 579.5,683.6 C582.5,678.5 588.0,666.2 590.9,664.3 C593.8,662.4 594.5,669.4 596.6,672.3 C598.7,675.1 601.3,682.5 603.4,681.4 C605.5,680.3 606.8,671.2 609.1,665.5 C611.4,659.8 614.7,648.4 617.0,647.3 C619.3,646.1 621.3,654.5 622.7,658.6 C624.1,662.7 624.6,667.4 625.5,672.0 C626.4,676.6 627.1,681.8 628.2,686.0 C629.3,690.2 630.7,694.2 632.0,697.0 C633.3,699.8 634.5,701.3 636.0,702.5 C637.5,703.7 638.7,704.0 641.0,704.3 C643.3,704.6 646.8,704.3 650.0,704.4 C653.2,704.5 651.7,704.7 660.0,704.8 C668.3,704.9 683.3,704.9 700.0,704.9 C716.7,704.9 740.0,704.8 760.0,704.8 C780.0,704.8 803.0,704.7 820.0,704.6 C837.0,704.5 853.3,704.7 862.0,704.3 C870.7,703.9 869.0,702.3 872.0,702.3 C875.0,702.2 877.0,703.8 880.0,704.0 C883.0,704.2 885.8,704.0 890.0,703.8 C894.2,703.5 901.0,702.8 905.0,702.5 C909.0,702.2 912.0,702.9 914.3,702.1 C916.6,701.4 917.5,699.8 919.0,698.0 C920.5,696.2 921.9,693.8 923.2,691.6 C924.5,689.4 925.8,686.6 927.0,685.0 C928.2,683.4 929.6,682.1 930.7,681.9 C931.8,681.7 932.5,682.9 933.5,684.0 C934.5,685.1 935.5,687.0 936.7,688.7 C938.0,690.5 939.5,692.8 941.0,694.5 C942.5,696.2 943.9,698.0 945.7,699.1 C947.5,700.2 949.5,700.8 952.0,701.3 C954.5,701.8 959.2,702.0 960.6,702.1" fill="none" stroke="#b575e6" stroke-width="3.4" stroke-linejoin="round" stroke-linecap="round"/>
<path d="M93.0,702.5 C93.2,702.5 95.5,702.1 96.0,702.0 C96.5,702.0 98.5,702.3 99.0,702.3 C99.5,702.3 101.5,702.2 102.0,702.1 C102.5,702.1 104.5,701.8 105.0,701.8 C105.5,701.8 107.3,702.1 107.8,702.1 C108.2,702.1 110.0,701.7 110.5,701.7 C111.0,701.6 112.8,701.2 113.2,701.2 C113.7,701.2 115.5,701.5 116.0,701.5 C116.5,701.5 118.2,700.9 118.7,700.9 C119.2,700.9 121.0,702.0 121.4,701.9 C121.9,701.9 123.6,700.3 124.1,700.2 C124.5,700.2 126.3,701.0 126.8,701.1 C127.2,701.1 129.1,701.4 129.5,701.3 C129.9,701.2 131.7,700.5 132.1,700.4 C132.6,700.4 134.3,700.7 134.7,700.6 C135.2,700.6 136.9,700.0 137.4,700.0 C137.8,699.9 139.5,699.7 140.0,699.6 C140.4,699.6 142.2,699.5 142.6,699.5 C143.0,699.5 144.8,699.7 145.2,699.6 C145.7,699.5 147.4,698.8 147.9,698.6 C148.3,698.5 150.1,698.0 150.5,698.0 C151.0,698.0 152.7,698.8 153.2,698.8 C153.6,698.8 155.3,698.1 155.8,698.0 C156.3,697.9 158.3,697.9 158.9,697.8 C159.4,697.7 161.4,697.5 161.9,697.4 C162.4,697.2 164.4,696.5 164.9,696.4 C165.5,696.2 167.5,695.6 168.0,695.5 C168.5,695.4 170.3,694.7 170.8,694.7 C171.3,694.7 173.1,695.3 173.6,695.2 C174.1,695.2 175.9,694.2 176.4,694.0 C176.9,693.9 178.7,694.0 179.2,693.9 C179.7,693.9 181.5,693.4 182.0,693.4 C182.5,693.4 184.7,694.2 185.4,694.0 C186.1,693.8 189.8,690.9 190.7,690.5 C191.6,690.1 195.2,690.2 196.1,689.6 C197.0,689.0 200.5,684.0 201.4,683.3 C202.3,682.6 206.1,681.9 206.8,681.5 C207.5,681.1 209.0,678.8 209.4,678.9 C209.8,679.0 211.4,683.7 212.1,683.3 C212.8,682.9 216.8,674.8 217.5,674.4 C218.2,674.0 220.1,679.5 221.0,678.9 C221.9,678.3 227.2,668.0 228.2,667.3 C229.2,666.6 232.8,670.9 233.5,670.8 C234.2,670.6 236.4,665.9 237.1,665.5 C237.8,665.1 240.8,667.0 241.5,666.4 C242.2,665.8 245.3,659.1 246.0,658.4 C246.7,657.7 249.0,657.4 249.6,657.5 C250.2,657.6 252.5,659.2 253.1,659.2 C253.7,659.2 256.2,656.9 256.7,657.5 C257.2,658.1 258.7,666.0 259.4,666.4 C260.1,666.8 264.5,663.1 265.6,662.8 C266.7,662.5 271.7,662.1 272.8,662.5 C273.9,662.9 278.2,667.4 279.0,667.3 C279.8,667.2 281.9,660.7 282.6,661.0 C283.3,661.3 287.1,670.3 287.9,670.8 C288.7,671.3 291.7,667.6 292.4,667.3 C293.1,667.0 296.2,667.0 296.8,667.3 C297.4,667.6 298.8,670.4 299.5,670.8 C300.2,671.2 304.1,672.6 304.9,672.6 C305.7,672.6 308.6,671.3 309.3,670.8 C310.0,670.3 313.1,666.5 313.8,666.4 C314.5,666.2 316.7,668.5 317.4,669.0 C318.1,669.5 321.8,672.3 322.7,672.6 C323.6,672.9 327.2,672.5 328.1,672.6 C329.0,672.8 332.4,673.9 333.4,674.4 C334.4,674.9 339.5,677.6 340.5,678.0 C341.5,678.4 344.2,679.2 345.0,679.5 C345.8,679.8 349.2,681.0 350.0,681.3 C350.8,681.6 354.2,683.1 355.0,683.5 C355.8,683.9 358.0,685.0 359.0,685.5 C360.0,686.0 366.2,688.5 367.3,689.0 C368.4,689.5 371.1,691.5 372.0,692.0 C372.9,692.5 376.8,694.3 378.0,694.7 C379.2,695.1 384.9,696.1 386.0,696.4 C387.1,696.7 389.5,698.1 390.6,698.5 C391.8,698.9 398.2,701.0 399.8,701.4 C401.4,701.8 408.0,703.1 409.7,703.3 C411.4,703.5 418.2,703.7 420.7,703.8 C423.2,703.9 435.1,704.3 440.0,704.5 C444.9,704.7 466.7,705.6 480.0,705.8 C506.7,706.1 546.7,706.2 600.0,706.3 C653.3,706.4 739.9,706.3 800.0,706.3 C860.1,706.3 933.8,706.2 960.6,706.2" fill="none" stroke="#d4a017" stroke-width="3.4" stroke-linejoin="round" stroke-linecap="round"/>
</g>
<line x1="289.8" y1="101.2" x2="405.2" y2="119.7" stroke="#000000" stroke-width="3.4"/><polygon points="271.4,98.2 289.0,106.1 290.5,96.3" fill="#000000" stroke="#000000" stroke-width="1.8" stroke-linejoin="round"/>
<line x1="292.8" y1="176.2" x2="402.0" y2="201.9" stroke="#ff0000" stroke-width="3.4"/><polygon points="274.7,171.9 291.6,181.0 293.9,171.3" fill="#ff0000" stroke="#ff0000" stroke-width="1.8" stroke-linejoin="round"/>
<line x1="328.0" y1="243.4" x2="410.7" y2="272.2" stroke="#0000ff" stroke-width="3.4"/><polygon points="310.4,237.3 326.4,248.1 329.7,238.7" fill="#0000ff" stroke="#0000ff" stroke-width="1.8" stroke-linejoin="round"/>
<line x1="329.3" y1="402.9" x2="412.0" y2="360.3" stroke="#008c00" stroke-width="3.4"/><polygon points="312.8,411.4 331.6,407.3 327.0,398.4" fill="#008c00" stroke="#008c00" stroke-width="1.8" stroke-linejoin="round"/>
<line x1="338.8" y1="500.6" x2="414.9" y2="440.0" stroke="#bf66ff" stroke-width="3.4"/><polygon points="324.2,512.1 341.9,504.5 335.6,496.6" fill="#bf66ff" stroke="#bf66ff" stroke-width="1.8" stroke-linejoin="round"/>
<line x1="358.5" y1="661.3" x2="422.7" y2="524.4" stroke="#e6a82a" stroke-width="3.4"/><polygon points="350.6,678.2 363.0,663.5 354.0,659.2" fill="#e6a82a" stroke="#e6a82a" stroke-width="1.8" stroke-linejoin="round"/>
<g transform="translate(414.58,137.78) scale(0.9840,1.0560)"><text font-size="42.8">1200 °C</text></g>
<g transform="translate(415.28,215.00) scale(0.9845,0.9964)"><text font-size="42.8">1300 °C</text></g>
<g transform="translate(417.84,293.00) scale(0.9970,1.0153)"><text font-size="42.8">1100 °C</text></g>
<g transform="translate(420.41,368.18) scale(0.9842,1.0018)"><text font-size="42.8">1000 °C</text></g>
<g transform="translate(422.66,443.00) scale(0.9884,1.0286)"><text font-size="42.8">900 °C</text></g>
<g transform="translate(423.17,511.29) scale(0.9827,0.9986)"><text font-size="42.8">800 °C</text></g>
<g transform="translate(563.43,59.18) scale(0.9975,0.9887)"><text font-size="42.8">Tb</text></g>
<g transform="translate(610.19,41.43) scale(1.1025,1.0810)"><text font-size="28">3+</text></g>
<g transform="translate(652.36,58.66) scale(1.0023,0.9364)"><text font-size="42.8">doped</text></g>
<g transform="translate(768.49,58.52) scale(0.9503,0.9945)"><text font-size="42.8">Lu</text></g>
<g transform="translate(815.00,70.55) scale(1.1279,1.1266)"><text font-size="28">2</text></g>
<g transform="translate(831.00,57.92) scale(0.9682,0.9705)"><text font-size="42.8">W</text></g>
<g transform="translate(871.26,70.08) scale(0.9212,1.0178)"><text font-size="28">3</text></g>
<g transform="translate(885.58,59.16) scale(1.0177,1.0480)"><text font-size="42.8">O</text></g>
<g transform="translate(917.07,70.47) scale(1.0284,1.0681)"><text font-size="28">12</text></g>
<g transform="translate(705.58,306.03) scale(1.0187,0.9671)"><text font-size="42.8">λ</text></g>
<g transform="translate(726.48,317.21) scale(1.0329,0.9737)"><text font-size="28">em</text></g>
<g transform="translate(770.89,304.05) scale(1.1311,0.8434)"><text font-size="42.8">=</text></g>
<g transform="translate(807.40,306.17) scale(0.9861,1.0169)"><text font-size="42.8">547</text></g>
<g transform="translate(882.55,305.62) scale(0.9827,1.0183)"><text font-size="42.8">nm</text></g>
<g transform="translate(355.79,809.07) scale(1.0102,1.0035)"><text font-size="46" font-weight="bold">Wavelength (nm)</text></g>
<g transform="translate(57.74,489.60) rotate(-90) scale(1.0056,0.9803)"><text font-size="46" font-weight="bold">Intensity (a.u.)</text></g>
<g transform="translate(92.87,766.40) scale(0.9970,0.9874)"><text font-size="46.8" font-weight="bold" text-anchor="middle">200</text></g>
<g transform="translate(237.47,766.40) scale(0.9970,0.9874)"><text font-size="46.8" font-weight="bold" text-anchor="middle">250</text></g>
<g transform="translate(382.07,766.40) scale(0.9970,0.9874)"><text font-size="46.8" font-weight="bold" text-anchor="middle">300</text></g>
<g transform="translate(526.67,766.40) scale(0.9970,0.9874)"><text font-size="46.8" font-weight="bold" text-anchor="middle">350</text></g>
<g transform="translate(671.27,766.40) scale(0.9970,0.9874)"><text font-size="46.8" font-weight="bold" text-anchor="middle">400</text></g>
<g transform="translate(815.87,766.40) scale(0.9970,0.9874)"><text font-size="46.8" font-weight="bold" text-anchor="middle">450</text></g>
<g transform="translate(960.47,766.40) scale(0.9970,0.9874)"><text font-size="46.8" font-weight="bold" text-anchor="middle">500</text></g>
</svg>
</body></html>
